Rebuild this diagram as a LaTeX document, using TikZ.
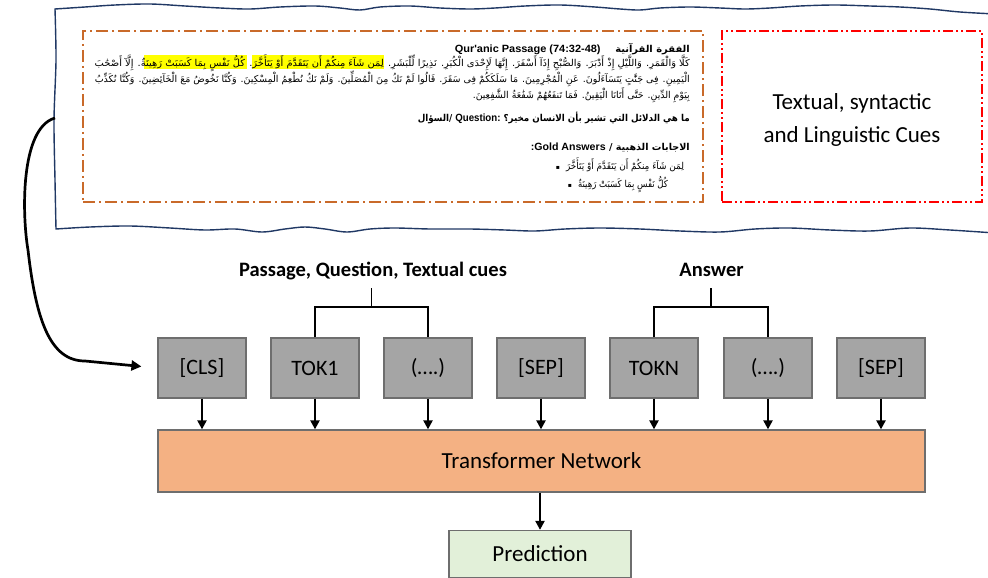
\documentclass[tikz,border=0pt]{standalone}
\usepackage{fontspec}
\usepackage{graphicx}
\usetikzlibrary{arrows.meta}
\TeXXeTstate=1
\setmainfont{Carlito}
\newfontfamily\arabicfont[Script=Arabic]{DejaVu Sans}
\newfontfamily\latinfont{Liberation Sans}
\newfontfamily\bulletfont{DejaVu Sans}

\definecolor{docline}{HTML}{203864}
\definecolor{passageorange}{HTML}{C96A2A}
\definecolor{tokenfill}{HTML}{A5A5A5}
\definecolor{boxline}{HTML}{6E6E6E}
\definecolor{netfill}{HTML}{F4B183}
\definecolor{predfill}{HTML}{E2F0D9}
\definecolor{marker}{HTML}{FFFF00}

% scale a line horizontally to a given width
\newcommand\fitwidth[2]{\resizebox{#1}{\height}{#2}}

\tikzset{
  docedge/.style={draw=docline, line width=1.4pt},
  passageframe/.style={draw=passageorange, line width=1.9pt,
    dash pattern=on 12pt off 4pt on 2pt off 4pt,
    minimum width=620pt, minimum height=171pt, inner sep=0pt},
  cueframe/.style={draw=red, line width=1.5pt,
    dash pattern=on 10pt off 3pt on 2pt off 3pt on 2pt off 3pt,
    minimum width=260pt, minimum height=171pt, inner sep=0pt},
  arline/.style={inner sep=0pt, anchor=base east,
    font=\arabicfont\fontsize{9.5}{11}\selectfont},
  highlight/.style={fill=marker},
  token/.style={draw=boxline, fill=tokenfill, line width=1.3pt,
    minimum width=88pt, minimum height=60pt, inner sep=0pt,
    font=\fontsize{22}{26}\selectfont},
  network/.style={draw=boxline, fill=netfill, line width=1.3pt,
    minimum width=767pt, minimum height=62pt, inner sep=0pt,
    font=\fontsize{23}{27}\selectfont},
  outbox/.style={draw=boxline, fill=predfill, line width=1.3pt,
    minimum width=182pt, minimum height=47pt, inner sep=0pt,
    font=\fontsize{23}{27}\selectfont},
  grouplabel/.style={font=\bfseries\fontsize{20.5}{24}\selectfont,
    text height=14pt, text depth=4.5pt, inner xsep=2pt, inner ysep=7pt},
  bracket/.style={line width=1.4pt},
  flow/.style={line width=2.2pt, -{Triangle[length=9pt,width=9pt]}},
  bigflow/.style={line width=2.7pt, -{Triangle[length=10pt,width=10pt]}},
}

\begin{document}
\begin{tikzpicture}[x=1pt,y=-1pt]
\useasboundingbox (0,0) rectangle (988,578);
\clip (0,0) rectangle (988,578);

% torn-paper document outline (right side runs off the page)
\draw[docedge] plot[smooth, tension=0.55] coordinates {
  (995,14) (960,12) (930,9) (900,7) (870,6) (835,5) (800,6) (770,8) (745,9)
  (720,8) (690,7) (660,8) (640,10) (620,9) (595,7) (560,5) (525,6) (495,8)
  (470,9) (440,8) (410,6) (380,7) (360,10) (340,8) (315,6) (280,7) (250,9)
  (220,8) (185,6) (150,4) (115,5) (85,7) (55,9)}
  -- plot[smooth, tension=0.5] coordinates {(55,9) (56,60) (54,120) (55,180) (56,229)}
  -- plot[smooth, tension=0.55] coordinates {
  (56,229) (90,227) (130,226) (170,228) (205,230) (235,229) (262,232) (285,229)
  (305,227) (325,229) (347,232) (370,229) (395,228) (430,229) (470,229) (505,230)
  (535,231) (565,229) (600,228) (640,229) (680,231) (720,232) (755,229) (790,228)
  (830,230) (870,231) (910,228) (950,230) (995,233)};
\coordinate (docport) at (55,118);

% passage frame and cue frame
\node[passageframe] (passage) at (393,116.5) {};
\node[cueframe] (cues) at (852,116.5) {};
\node[align=center, font=\fontsize{23}{33}\selectfont] (cuetext) at (852,119.5)
  {Textual, syntactic\\and Linguistic Cues};

% highlighted answer phrases, painted under the first verse line
\fill[highlight] (252,55) rectangle (384,69);
\fill[highlight] (144,55) rectangle (247,69);

% passage text: every line is one right-to-left run
\node[arline] (hdr) at (690,52.5) {\fitwidth{235pt}{\bfseries\beginR
  الفقرة القرآنية\hspace{14pt}%
  \beginL{\latinfont\fontsize{10.5}{12}\selectfont Qur'anic Passage (74:32-48)}\endL\endR}};

\node[arline] (ayah1) at (690,66.5) {\fitwidth{595pt}{\beginR كَلَّا وَالْقَمَرِ. وَاللَّيْلِ إِذْ أَدْبَرَ. وَالصُّبْحِ إِذَآ أَسْفَرَ. إِنَّهَا لَإِحْدَى الْكُبَرِ. نَذِيرًا لِّلْبَشَرِ. لِمَن شَآءَ مِنكُمْ أَن يَتَقَدَّمَ أَوْ يَتَأَخَّرَ. كُلُّ نَفْسٍ بِمَا كَسَبَتْ رَهِينَةٌ. إِلَّآ أَصْحَٰبَ\endR}};

\node[arline] (ayah2) at (690,82.5) {\fitwidth{595pt}{\beginR الْيَمِينِ. فِى جَنَّٰتٍ يَتَسَآءَلُونَ. عَنِ الْمُجْرِمِينَ. مَا سَلَكَكُمْ فِى سَقَرَ. قَالُوا لَمْ نَكُ مِنَ الْمُصَلِّينَ. وَلَمْ نَكُ نُطْعِمُ الْمِسْكِينَ. وَكُنَّا نَخُوضُ مَعَ الْخَآئِضِينَ. وَكُنَّا نُكَذِّبُ\endR}};

\node[arline] (ayah3) at (690,98.5) {\fitwidth{217pt}{\beginR بِيَوْمِ الدِّينِ. حَتَّى أَتَانَا الْيَقِينُ. فَمَا تَنفَعُهُمْ شَفَٰعَةُ الشَّٰفِعِينَ.\endR}};

\node[arline] (question) at (690,121) {\fitwidth{272pt}{\bfseries\beginR
  ما هي الدلائل التي تشير بأن الانسان مخير؟
  \beginL{\latinfont\fontsize{10.5}{12}\selectfont Question:}\endL\ /السؤال\endR}};

\node[arline] (goldhead) at (690,150) {\fitwidth{159pt}{\bfseries\beginR
  الاجابات الذهبية /
  \beginL{\latinfont\fontsize{10.5}{12}\selectfont Gold Answers}\endL{\latinfont\fontsize{10.5}{12}\selectfont :}\endR}};

\node[arline, anchor=base] (gold1) at (620,169.5) {%
  {\bulletfont\fontsize{6}{6}\selectfont ▪}\hspace{6pt}%
  \fitwidth{118pt}{\beginR لِمَن شَآءَ مِنكُمْ أَن يَتَقَدَّمَ أَوْ يَتَأَخَّرَ\endR}};
\node[arline, anchor=base] (gold2) at (618,187.5) {%
  {\bulletfont\fontsize{6}{6}\selectfont ▪}\hspace{6pt}%
  \fitwidth{90pt}{\beginR كُلُّ نَفْسٍ بِمَا كَسَبَتْ رَهِينَةٌ\endR}};

% input tokens
\node[token] (cls)  at (202,368) {[CLS]};
\node[token] (tok1) at (315,368) {TOK1};
\node[token] (dotsa) at (428,368) {(….)};
\node[token] (sepa) at (541,368) {[SEP]};
\node[token] (tokn) at (654,368) {TOKN};
\node[token] (dotsb) at (768,368) {(….)};
\node[token] (sepb) at (881,368) {[SEP]};

% group labels with brackets
\node[grouplabel] (pq) at (373,272) {Passage, Question, Textual cues};
\node[grouplabel] (ans) at (711.5,272) {Answer};
\coordinate (pqjoin) at (371.5,307);
\coordinate (ansjoin) at (711,307);
\draw[bracket] (tok1.north) |- (pqjoin) -| (dotsa.north);
\draw[bracket] (pqjoin) -- (pqjoin |- pq.south);
\draw[bracket] (tokn.north) |- (ansjoin) -| (dotsb.north);
\draw[bracket] (ansjoin) -- (ansjoin |- ans.south);

% network and output
\node[network] (net) at (541.5,461) {Transformer Network};
\node[outbox] (pred) at (540,554) {Prediction};

\foreach \t in {cls,tok1,dotsa,sepa,tokn,dotsb,sepb}
  \draw[flow] (\t.south) -- (\t.south |- net.north);
\draw[flow] (net.south -| pred.north) -- (pred.north);

% passage fed into the first token
\draw[bigflow, shorten >=16pt] (docport) .. controls (20,128) and (22,215) .. (28,250)
  .. controls (36,320) and (50,361) .. (85,361) -- (cls.west);
\end{tikzpicture}
\end{document}
